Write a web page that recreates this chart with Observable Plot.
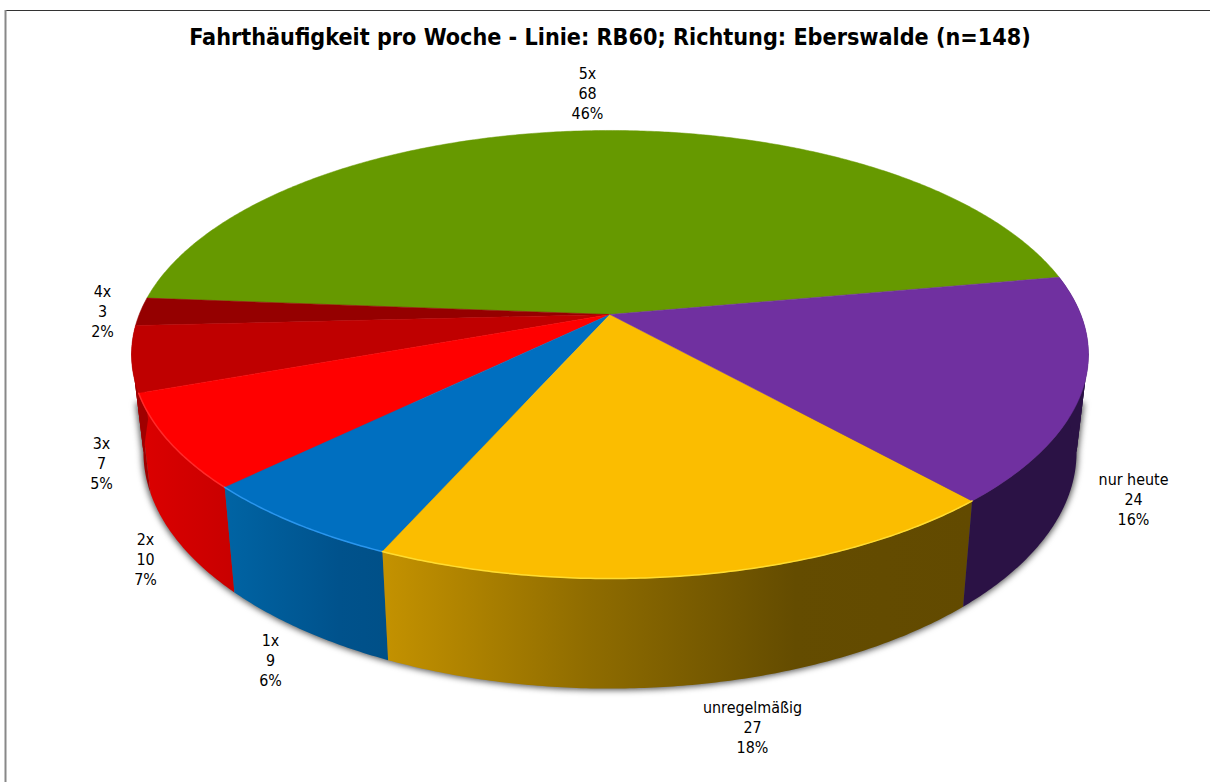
<!DOCTYPE html>
<html lang="de">
<head>
<meta charset="utf-8">
<script src="https://cdn.jsdelivr.net/npm/d3@7"></script>
<script src="https://cdn.jsdelivr.net/npm/@observablehq/plot@0.6"></script>
<style>html,body{margin:0;padding:0;background:#fff}svg{display:block}</style>
</head>
<body>
<div id="chart"></div>
<script>
// Data
const titleText = "Fahrthäufigkeit pro Woche - Linie: RB60; Richtung: Eberswalde (n=148)";
const categories = ["5x", "4x", "3x", "2x", "1x", "unregelmäßig", "nur heute"];
const counts = [68, 3, 7, 10, 9, 27, 24];

// Styles per slice
const topColors = ["#669900", "#950000", "#bf0000", "#ff0000", "#006fc0", "#fbbd00", "#7030a0"];
const sideFills = [null, null, "#a00000", "url(#sideRed)", "url(#sideBlue)", "url(#sideYellow)", "#2b1245"];
const rimColors = [null, null, null, "#ff2a2a", "#2a96ee", "#ffdc30", null];

// Layout
const W = 1210, H = 782;
const startAngle = 10.2;                // where the first slice starts (deg, counter-clockwise)
const apex = {x: 609.5, y: 314};        // projected pie centre
const persp = 0.1786, scaleU = 470.8, scaleV = 216.9;
const base = {sx: 0.975, sy: 1.055, drop: 95.5}; // lower face of the disc
const turn = Math.asin(persp) * 180 / Math.PI;   // angle where the wall meets the outline
const labelSpots = [[587, 92.5], [102, 310.5], [101, 462.5], [145, 558.5], [270, 659.5], [752, 726.5], [1133, 498.5]];

const total = d3.sum(counts);
const labels = categories.map((c, i) => `${c}\n${counts[i]}\n${Math.round(counts[i] / total * 100)}%`);

function topPoint(deg) {
  const a = deg * Math.PI / 180, u = Math.cos(a), v = Math.sin(a), w = 1 + persp * v;
  return {x: apex.x + scaleU * u / w, y: apex.y - scaleV * v / w};
}
function basePoint(deg) {
  const p = topPoint(deg);
  return {x: apex.x + (p.x - apex.x) * base.sx, y: apex.y + base.drop + (p.y - apex.y) * base.sy};
}
function arc(a0, a1, fn) {
  const n = Math.max(2, Math.ceil(Math.abs(a1 - a0) / 0.5));
  return d3.range(n + 1).map(i => fn(a0 + (a1 - a0) * i / n));
}
// A slice's wall as outlines, split where it crosses the silhouette corners.
function wall(a0, a1) {
  const stops = [a0, a1];
  for (const t of [180 + turn, 360 - turn]) if (t > a0 && t < a1) stops.splice(stops.length - 1, 0, t);
  return stops.slice(1).map((b, k) => [...arc(stops[k], b, topPoint), ...arc(b, stops[k], basePoint)]);
}
const midpoint = deg => {
  const t = topPoint(deg), b = basePoint(deg);
  return {x: (t.x + b.x) / 2, y: (t.y + b.y) / 2};
};

let acc = startAngle;
const slices = counts.map((c, i) => {
  const a0 = acc, a1 = acc + c / total * 360;
  acc = a1;
  return {
    i, a0, a1,
    top: [{x: apex.x, y: apex.y}, ...arc(a0, a1, topPoint), {x: apex.x, y: apex.y}],
    side: wall(a0, a1),
    rim: arc(a0, a1, topPoint)
  };
});

const xy = {x: "x", y: "y", curve: "linear"};
// The shadow follows only the lower outline, so no halo appears above the disc.
const shadow = [midpoint(180 + turn), ...arc(180 + turn, 360 - turn, basePoint), midpoint(360 - turn)];

const gradient = (id, stops) =>
  `<linearGradient id="${id}" x1="0" x2="1" y1="0" y2="0">` +
  stops.map(([o, c]) => `<stop offset="${o}" stop-color="${c}"/>`).join("") + `</linearGradient>`;

const defsMark = () => {
  const g = document.createElementNS("http://www.w3.org/2000/svg", "defs");
  g.innerHTML =
    gradient("sideRed", [[0, "#dc0000"], [1, "#c80000"]]) +
    gradient("sideBlue", [[0, "#0064a4"], [0.7, "#00528c"], [1, "#005088"]]) +
    gradient("sideYellow", [[0, "#c49200"], [0.35, "#8f6c00"], [0.7, "#644c00"], [1, "#624a00"]]);
  return g;
};

const chart = Plot.plot({
  width: W,
  height: H,
  margin: 0,
  x: {domain: [0, W], range: [0, W], axis: null},
  y: {domain: [0, H], range: [0, H], axis: null},
  style: {background: "#fff", fontFamily: "'DejaVu Sans Condensed', 'DejaVu Sans', sans-serif", fontStretch: "condensed"},
  marks: [
    defsMark,
    Plot.ruleY([10], {x1: 5, x2: W, stroke: "#333", strokeWidth: 1}),
    Plot.ruleX([5], {y1: 10, y2: H, stroke: "#888", strokeWidth: 2}),
    // soft shadow under the disc
    Plot.line(shadow, {...xy, fill: "#555", stroke: "#555", strokeWidth: 3, imageFilter: "blur(3px)"}),
    // side walls, back to front
    ...slices.filter(s => sideFills[s.i]).flatMap(s =>
      s.side.map(part => Plot.line(part, {...xy, fill: sideFills[s.i], stroke: "none"}))),
    // the straight wall edge between the upper and lower silhouette
    Plot.line([topPoint(180 + turn), basePoint(180 + turn), basePoint(180 + turn - 8), topPoint(180 + turn - 8)],
      {...xy, fill: sideFills[2], stroke: "none"}),
    Plot.line([topPoint(360 - turn), basePoint(360 - turn), basePoint(360 - turn + 14), topPoint(360 - turn + 14)],
      {...xy, fill: sideFills[6], stroke: "none"}),
    // top faces
    ...slices.map(s =>
      Plot.line(s.top, {...xy, fill: topColors[s.i], stroke: topColors[s.i], strokeWidth: 0.5})),
    // light rim along the front edge
    ...slices.filter(s => rimColors[s.i]).map(s =>
      Plot.line(s.rim, {...xy, stroke: rimColors[s.i], strokeWidth: 1.5})),
    // labels
    Plot.text(labels, {
      x: (d, i) => labelSpots[i][0],
      y: (d, i) => labelSpots[i][1],
      text: d => d,
      fontSize: 15.9,
      lineHeight: 1.258,
      fill: "#000",
      textAnchor: "middle"
    }),
    Plot.text([titleText], {
      x: () => 609.5,
      y: () => 37,
      text: d => d,
      fontSize: 23.15,
      fontWeight: "bold",
      fill: "#000",
      textAnchor: "middle"
    })
  ]
});
document.getElementById("chart").append(chart);
</script>
</body>
</html>
